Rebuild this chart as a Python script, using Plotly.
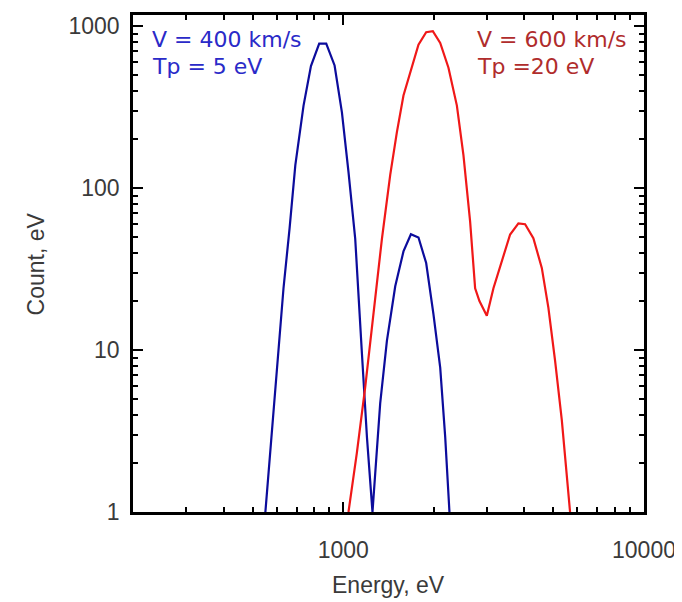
import plotly.graph_objects as go

# Energy (eV) and counts
blue_energy = [551, 610, 633, 663, 693, 738, 781, 832, 878, 936, 990, 1041, 1096, 1154, 1199, 1251,
               1327, 1397, 1489, 1586, 1679, 1779, 1887, 1995, 2101, 2183, 2255]
blue_count = [1.0, 9.5, 24.1, 56.3, 139, 324, 568, 782, 782, 573, 294, 126, 48.9, 9.5, 2.9, 1.0,
              4.69, 11.4, 24.8, 40.7, 52.0, 49.6, 34.5, 16.7, 7.8, 2.9, 1.0]

red_energy = [1041, 1110, 1183, 1261, 1345, 1433, 1508, 1586, 1679, 1779, 1887, 1986, 2101, 2238,
              2387, 2510, 2642, 2745, 2837, 3002, 3158, 3367, 3588, 3823, 4024, 4287, 4573, 4809,
              5062, 5330, 5678]
red_count = [1.0, 2.32, 5.88, 17.4, 48.9, 121, 222, 374, 542, 771, 919, 932, 790, 555,
             324, 160, 62.2, 24.1, 20.1, 16.3, 24.1, 35.4, 51.8, 60.7, 59.9, 49.1, 32.2, 18.3,
             8.6, 3.69, 1.0]

x_ticks = [1000, 10000]
x_tick_labels = ["1000", "10000"]
y_ticks = [1, 10, 100, 1000]
y_tick_labels = ["1", "10", "100", "1000"]
x_minor = [m * 10 ** p for p in (2, 3) for m in range(2, 10)]
y_minor = [m * 10 ** p for p in (0, 1, 2) for m in range(2, 10)]

blue_label = ["V = 400 km/s", "Tp = 5 eV"]
red_label = ["V = 600 km/s", "Tp =20 eV"]

fig = go.Figure()
fig.add_trace(go.Scatter(x=blue_energy, y=blue_count, mode="lines",
                         line=dict(color="#0c0c9c", width=2.2), showlegend=False))
fig.add_trace(go.Scatter(x=red_energy, y=red_count, mode="lines",
                         line=dict(color="#f01818", width=2.2), showlegend=False))

tickfont = dict(family="Liberation Sans, Arial, sans-serif", size=23, color="#3a3a3a")
axis_common = dict(type="log", showgrid=False, zeroline=False, showline=True, linecolor="black",
                   linewidth=2.5, mirror="allticks", ticks="inside", ticklen=10, tickwidth=2,
                   tickcolor="black", tickfont=tickfont, tickmode="array")

fig.update_xaxes(**axis_common, range=[2.30103, 4.0], tickvals=x_ticks, ticktext=x_tick_labels,
                 ticklabelstandoff=16,
                 minor=dict(tickmode="array", tickvals=x_minor, ticks="inside", ticklen=5,
                            tickwidth=2, tickcolor="black"))
fig.update_yaxes(**axis_common, range=[0.0, 3.07], tickvals=y_ticks, ticktext=y_tick_labels,
                 ticklabelstandoff=6,
                 minor=dict(tickmode="array", tickvals=y_minor, ticks="inside", ticklen=5,
                            tickwidth=2, tickcolor="black"))

annfont = "DejaVu Sans, sans-serif"
annotations = []
for i, t in enumerate(blue_label):
    annotations.append(dict(text=t, xref="paper", yref="paper", x=0.033, y=0.951 - i * 0.054,
                            xanchor="left", yanchor="middle", showarrow=False,
                            font=dict(family=annfont, size=22, color="#2a2ac8")))
for i, t in enumerate(red_label):
    annotations.append(dict(text=t, xref="paper", yref="paper", x=0.669, y=0.951 - i * 0.054,
                            xanchor="left", yanchor="middle", showarrow=False,
                            font=dict(family=annfont, size=22, color="#b02c2c")))
annotations.append(dict(text="Energy, eV", xref="paper", yref="paper", x=0.5, y=-0.146,
                        xanchor="center", yanchor="middle", showarrow=False,
                        font=dict(family="Liberation Sans, Arial, sans-serif", size=23, color="#3a3a3a")))
annotations.append(dict(text="Count, eV", xref="paper", yref="paper", x=-0.19, y=0.5,
                        xanchor="center", yanchor="middle", showarrow=False, textangle=-90,
                        font=dict(family="Liberation Sans, Arial, sans-serif", size=23, color="#3a3a3a")))

fig.update_layout(width=674, height=594, margin=dict(l=125, r=38, t=4, b=90),
                  plot_bgcolor="white", paper_bgcolor="white", annotations=annotations)

fig.write_html("out.html")
